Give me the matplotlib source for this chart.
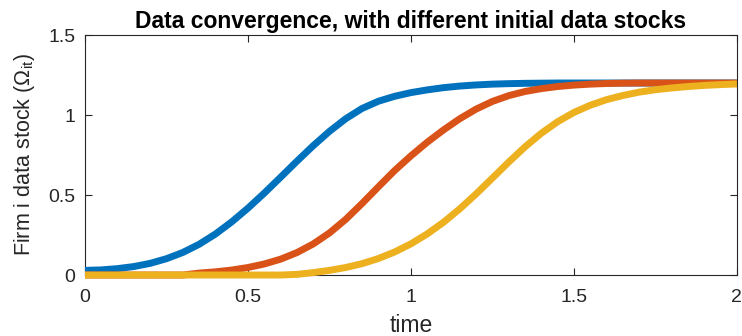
import numpy as np
import matplotlib
matplotlib.use("Agg")
import matplotlib.pyplot as plt

plt.rcParams['font.family'] = ['Liberation Sans', 'DejaVu Sans']
plt.rcParams['mathtext.fontset'] = 'custom'
plt.rcParams['mathtext.rm'] = 'Liberation Sans'
plt.rcParams['mathtext.it'] = 'Liberation Serif:italic'

# time grid (step 0.05)
time = [0.00, 0.05, 0.10, 0.15, 0.20, 0.25, 0.30, 0.35, 0.40, 0.45,
        0.50, 0.55, 0.60, 0.65, 0.70, 0.75, 0.80, 0.85, 0.90, 0.95,
        1.00, 1.05, 1.10, 1.15, 1.20, 1.25, 1.30, 1.35, 1.40, 1.45,
        1.50, 1.55, 1.60, 1.65, 1.70, 1.75, 1.80, 1.85, 1.90, 1.95, 2.00]

stock_high = [0.029, 0.032, 0.040, 0.053, 0.073, 0.102, 0.141, 0.192, 0.256, 0.332,
              0.418, 0.512, 0.611, 0.711, 0.808, 0.898, 0.977, 1.041, 1.086, 1.117,
              1.140, 1.157, 1.171, 1.181, 1.188, 1.193, 1.196, 1.198, 1.199, 1.200,
              1.200, 1.200, 1.200, 1.200, 1.200, 1.200, 1.200, 1.200, 1.200, 1.200, 1.200]

stock_mid = [0.000, 0.000, 0.000, 0.000, 0.000, 0.000, 0.000, 0.012, 0.020, 0.031,
             0.047, 0.069, 0.099, 0.140, 0.194, 0.263, 0.348, 0.447, 0.551, 0.653,
             0.745, 0.830, 0.907, 0.977, 1.037, 1.085, 1.121, 1.147, 1.165, 1.178,
             1.187, 1.193, 1.197, 1.199, 1.200, 1.200, 1.200, 1.200, 1.200, 1.200, 1.200]

stock_low = [0.000, 0.000, 0.000, 0.000, 0.000, 0.000, 0.000, 0.000, 0.000, 0.000,
             0.000, 0.000, 0.000, 0.004, 0.015, 0.029, 0.047, 0.071, 0.103, 0.144,
             0.195, 0.257, 0.330, 0.414, 0.507, 0.606, 0.706, 0.801, 0.886, 0.958,
             1.016, 1.061, 1.096, 1.122, 1.143, 1.158, 1.169, 1.178, 1.185, 1.190, 1.194]

colors = ['#0072BD', '#D95319', '#EDB120']
ink = '#262626'

fig = plt.figure(figsize=(7.42, 3.36), dpi=100)
ax = fig.add_axes([0.1146, 0.1815, 0.8785, 0.7143])

for series, c in zip([stock_high, stock_mid, stock_low], colors):
    ax.plot(time, series, color=c, linewidth=5.0, solid_capstyle='butt',
            solid_joinstyle='round', clip_on=False, zorder=3)

ax.set_xlim(0, 2)
ax.set_ylim(0, 1.5)
ax.set_xticks([0, 0.5, 1, 1.5, 2])
ax.set_xticklabels(['0', '0.5', '1', '1.5', '2'])
ax.set_yticks([0, 0.5, 1, 1.5])
ax.set_yticklabels(['0', '0.5', '1', '1.5'])
ax.tick_params(direction='in', length=5, width=0.8, colors=ink,
               labelsize=14, top=True, right=True)
ax.tick_params(axis='x', pad=10)
ax.tick_params(axis='y', pad=7)
for s in ax.spines.values():
    s.set_color(ink)
    s.set_linewidth(0.8)

ax.set_xlabel('time', fontsize=16.5, color=ink, labelpad=5.5)
ax.set_ylabel(r'Firm i data stock ($\mathit{\Omega}_{\mathrm{it}}$)', fontsize=15.5,
              color=ink, labelpad=8)
ax.set_title('Data convergence, with different initial data stocks',
             fontsize=16.5, fontweight='bold', color='black', pad=5)

fig.savefig('out.png', dpi=100)
